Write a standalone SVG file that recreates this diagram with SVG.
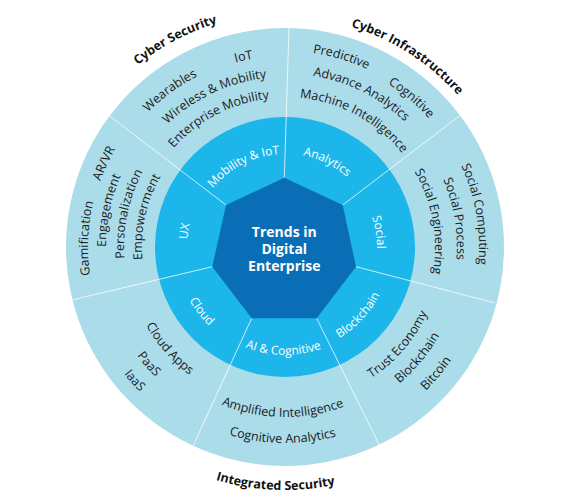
<svg xmlns="http://www.w3.org/2000/svg" width="567" height="501" viewBox="0 0 567 501">
<style>
text{font-family:"Open Sans","Liberation Sans",sans-serif;}
.lbl{font-size:12.5px;font-weight:700;fill:#111;text-anchor:middle;}
.o{font-size:12.5px;fill:#1b1b1b;text-anchor:middle;}
.m{font-size:12px;fill:#ffffff;text-anchor:middle;}
.c{font-size:14px;font-weight:700;fill:#ffffff;text-anchor:middle;}
.div{stroke:#ffffff;stroke-opacity:0.75;stroke-width:1;fill:none;}
</style>
<defs>
<path id="p-cs" d="M56.2,198.0 A234,234 0 0 1 373.0,30.2"/>
<path id="p-ci" d="M216.6,27.4 A230,230 0 0 1 513.1,217.8"/>
<path id="p-is" d="M92.7,395.6 A243,243 0 0 0 464.7,410.5"/>
<path id="p-iot" d="M115.9,158.2 A191,191 0 0 1 401.8,95.9"/>
<path id="p-wear" d="M93.4,234.6 A192,192 0 0 1 330.5,60.5"/>
<path id="p-wire" d="M120.8,203.0 A170,170 0 0 1 356.8,92.9"/>
<path id="p-ent" d="M139.7,214.2 A149,149 0 0 1 342.5,109.5"/>
<path id="p-pred" d="M176.8,83.6 A196,196 0 0 1 464.8,168.9"/>
<path id="p-cog" d="M252.5,56.8 A193,193 0 0 1 478,248.0"/>
<path id="p-adv" d="M215.8,87.9 A173.5,173.5 0 0 1 453.7,206.5"/>
<path id="p-mach" d="M230.0,107.4 A150,150 0 0 1 432.0,217.1"/>
<path id="p-sc" d="M382.6,79.3 A194,194 0 0 1 433.2,372.2"/>
<path id="p-sp" d="M372.5,99.0 A172,172 0 0 1 415.6,358.9"/>
<path id="p-se" d="M360,117.1 A150,150 0 0 1 399.9,343.4"/>
<path id="p-te" d="M282.8,404.0 A157,157 0 0 0 440.0,221.9"/>
<path id="p-bc" d="M285.3,425.0 A178,178 0 0 0 460.2,215.8"/>
<path id="p-btc" d="M285.4,448.0 A201,201 0 0 0 482.9,211.7"/>
<path id="p-ai1" d="M153.3,354.4 A170,170 0 0 0 413.7,358.1"/>
<path id="p-ai2" d="M133.3,371.1 A196,196 0 0 0 433.6,374.8"/>
<path id="p-capp" d="M127.3,222.9 A159.5,159.5 0 0 0 288.6,406.5"/>
<path id="p-paas" d="M103.9,217.3 A183.5,183.5 0 0 0 287.2,430.5"/>
<path id="p-iaas" d="M82.2,217.0 A205,205 0 0 0 290.7,451.9"/>
<path id="p-gam" d="M151.9,392.2 A197,197 0 0 1 165.1,90.7"/>
<path id="p-arvr" d="M107.7,330.5 A196,196 0 0 1 233.6,57.9"/>
<path id="p-eng" d="M144.5,357.9 A179,179 0 0 1 200.1,89.4"/>
<path id="p-pers" d="M158.3,346.3 A161,161 0 0 1 209.2,105.0"/>
<path id="p-emp" d="M172.0,334.6 A143,143 0 0 1 218.3,120.5"/>
<path id="p-m-mob" d="M194.3,226.4 A93,93 0 0 1 321.0,161.3"/>
<path id="p-m-ana" d="M247.4,161.4 A93.5,93.5 0 0 1 375.8,224.9"/>
<path id="p-m-soc" d="M332.4,168.1 A92,92 0 0 1 354.4,307.4"/>
<path id="p-m-blk" d="M279.5,352.9 A106,106 0 0 0 390.2,234.1"/>
<path id="p-m-ai" d="M201.2,315.1 A108,108 0 0 0 366.6,317.7"/>
<path id="p-m-cld" d="M178.1,223.5 A109.5,109.5 0 0 0 280.4,356.4"/>
<path id="p-m-ux" d="M211.0,311.3 A98,98 0 0 1 234.5,163.0"/>
</defs>

<g id="outer-ring">
<circle cx="285" cy="247" r="219" fill="#abdcea"/>
</g>
<g id="middle-ring">
<circle cx="285" cy="247" r="130" fill="#1db6ea"/>
</g>

<g id="connectors">
<line class="div" x1="284.3" y1="177.7" x2="289" y2="28"/>
<line class="div" x1="342.7" y1="205" x2="460" y2="115.5"/>
<line class="div" x1="356" y1="266.7" x2="495" y2="303"/>
<line class="div" x1="316.7" y1="318.3" x2="379.3" y2="445"/>
<line class="div" x1="251.7" y1="318.3" x2="192.7" y2="446.7"/>
<line class="div" x1="212.3" y1="266.7" x2="71.7" y2="300"/>
<line class="div" x1="226" y1="205" x2="108.3" y2="115"/>
</g>

<g id="center">
<polygon points="284.3,177.7 342.7,205 356,266.7 316.7,318.3 251.7,318.3 212.3,266.7 226,205" fill="#0a6eb6"/>
<text class="c" x="284.3" y="237">Trends in</text>
<text class="c" x="284.3" y="254">Digital</text>
<text class="c" x="284.3" y="271">Enterprise</text>
</g>

<g id="seg-mobility">
<text class="m"><textPath href="#p-m-mob" startOffset="50%">Mobility &amp; IoT</textPath></text>
<text class="o"><textPath href="#p-iot" startOffset="50%">IoT</textPath></text>
<text class="o"><textPath href="#p-wear" startOffset="50%">Wearables</textPath></text>
<text class="o"><textPath href="#p-wire" startOffset="50%">Wireless &amp; Mobility</textPath></text>
<text class="o"><textPath href="#p-ent" startOffset="50%">Enterprise Mobility</textPath></text>
<text class="lbl"><textPath href="#p-cs" startOffset="50%">Cyber Security</textPath></text>
</g>

<g id="seg-analytics">
<text class="m"><textPath href="#p-m-ana" startOffset="50%">Analytics</textPath></text>
<text class="o"><textPath href="#p-pred" startOffset="50%">Predictive</textPath></text>
<text class="o"><textPath href="#p-cog" startOffset="50%">Cognitive</textPath></text>
<text class="o"><textPath href="#p-adv" startOffset="50%">Advance Analytics</textPath></text>
<text class="o"><textPath href="#p-mach" startOffset="50%">Machine Intelligence</textPath></text>
<text class="lbl"><textPath href="#p-ci" startOffset="50%">Cyber Infrastructure</textPath></text>
</g>

<g id="seg-social">
<text class="m"><textPath href="#p-m-soc" startOffset="50%">Social</textPath></text>
<text class="o"><textPath href="#p-sc" startOffset="50%">Social Computing</textPath></text>
<text class="o"><textPath href="#p-sp" startOffset="50%">Social Process</textPath></text>
<text class="o"><textPath href="#p-se" startOffset="50%">Social Engineering</textPath></text>
</g>

<g id="seg-blockchain">
<text class="m"><textPath href="#p-m-blk" startOffset="50%">Blockchain</textPath></text>
<text class="o"><textPath href="#p-te" startOffset="50%">Trust Economy</textPath></text>
<text class="o"><textPath href="#p-bc" startOffset="50%">Blockchain</textPath></text>
<text class="o"><textPath href="#p-btc" startOffset="50%">Bitcoin</textPath></text>
</g>

<g id="seg-ai">
<text class="m"><textPath href="#p-m-ai" startOffset="50%">AI &amp; Cognitive</textPath></text>
<text class="o"><textPath href="#p-ai1" startOffset="50%">Amplified Intelligence</textPath></text>
<text class="o"><textPath href="#p-ai2" startOffset="50%">Cognitive Analytics</textPath></text>
<text class="lbl"><textPath href="#p-is" startOffset="50%">Integrated Security</textPath></text>
</g>

<g id="seg-cloud">
<text class="m"><textPath href="#p-m-cld" startOffset="50%">Cloud</textPath></text>
<text class="o"><textPath href="#p-capp" startOffset="50%">Cloud Apps</textPath></text>
<text class="o"><textPath href="#p-paas" startOffset="50%">PaaS</textPath></text>
<text class="o"><textPath href="#p-iaas" startOffset="50%">IaaS</textPath></text>
</g>

<g id="seg-ux">
<text class="m"><textPath href="#p-m-ux" startOffset="50%">UX</textPath></text>
<text class="o"><textPath href="#p-gam" startOffset="50%">Gamification</textPath></text>
<text class="o"><textPath href="#p-arvr" startOffset="50%">AR/VR</textPath></text>
<text class="o"><textPath href="#p-eng" startOffset="50%">Engagement</textPath></text>
<text class="o"><textPath href="#p-pers" startOffset="50%">Personalization</textPath></text>
<text class="o"><textPath href="#p-emp" startOffset="50%">Empowerment</textPath></text>
</g>
</svg>
